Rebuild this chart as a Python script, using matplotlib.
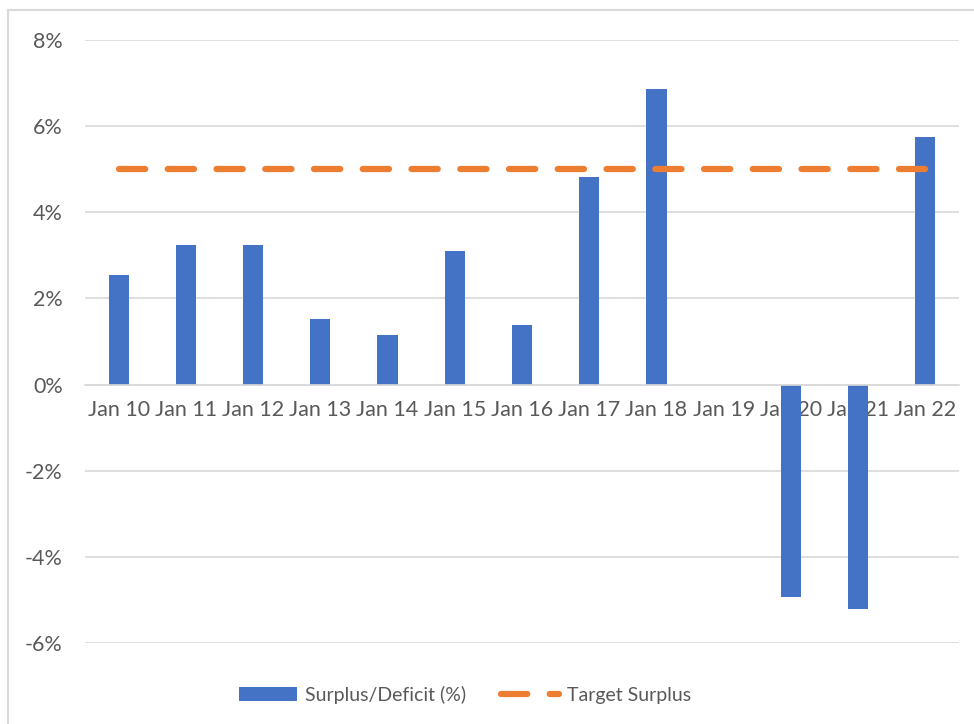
import matplotlib.pyplot as plt
from matplotlib.ticker import PercentFormatter
from matplotlib.lines import Line2D

categories = ['Jan 10', 'Jan 11', 'Jan 12', 'Jan 13', 'Jan 14', 'Jan 15', 'Jan 16',
              'Jan 17', 'Jan 18', 'Jan 19', 'Jan 20', 'Jan 21', 'Jan 22']
surplus = [2.54, 3.24, 3.24, 1.52, 1.14, 3.10, 1.38, 4.81, 6.86, 0.0, -4.93, -5.21, 5.74]
target = [5.0] * len(categories)
y_ticks = [-6, -4, -2, 0, 2, 4, 6, 8]

plt.rcParams['font.family'] = ['Lato', 'DejaVu Sans']
plt.rcParams['axes.unicode_minus'] = False
text_color = '#595959'
grid_color = '#d9d9d9'

W, H = 974, 724
fig = plt.figure(figsize=(W / 100, H / 100), dpi=100)
ax = fig.add_axes([85 / W, 1 - 643 / H, (959 - 85) / W, (643 - 40) / H])

# outer chart border (top and left visible)
fig.add_artist(Line2D([8 / W, 8 / W], [0, 1 - 10 / H], color=grid_color, lw=1.5,
                      transform=fig.transFigure))
fig.add_artist(Line2D([8 / W, 1], [1 - 10 / H, 1 - 10 / H], color=grid_color, lw=1.5,
                      transform=fig.transFigure))

x = range(len(categories))
ax.set_axisbelow(True)
bars = ax.bar(x, surplus, width=0.30, color='#4472c4', zorder=2, label='Surplus/Deficit (%)')
line, = ax.plot(x, target, color='#ed7d31', lw=4.5, dashes=(4.2, 3.6), solid_capstyle='round',
                dash_capstyle='round', zorder=3, label='Target Surplus')

ax.set_xlim(-0.5, len(categories) - 0.5)
ax.set_ylim(-6, 8)
ax.set_yticks(y_ticks)
ax.yaxis.set_major_formatter(PercentFormatter(decimals=0))
ax.grid(axis='y', color=grid_color, lw=1.2)

for s in ['top', 'right', 'left']:
    ax.spines[s].set_visible(False)
ax.spines['bottom'].set_position(('data', 0))
ax.spines['bottom'].set_color(grid_color)
ax.spines['bottom'].set_linewidth(1.2)

ax.set_xticks(list(x))
ax.set_xticklabels(categories)
ax.tick_params(axis='x', length=0, pad=11, labelsize=15.5, labelcolor=text_color)
ax.tick_params(axis='y', length=0, pad=16, labelsize=15.5, labelcolor=text_color)

fig.legend([bars, line], ['Surplus/Deficit (%)', 'Target Surplus'],
           loc='center', bbox_to_anchor=(465 / W, 1 - 695 / H), ncol=2, frameon=False,
           fontsize=14, labelcolor=text_color, handlelength=3.0, columnspacing=1.8,
           handletextpad=0.4)

fig.savefig('out.png', dpi=100)
